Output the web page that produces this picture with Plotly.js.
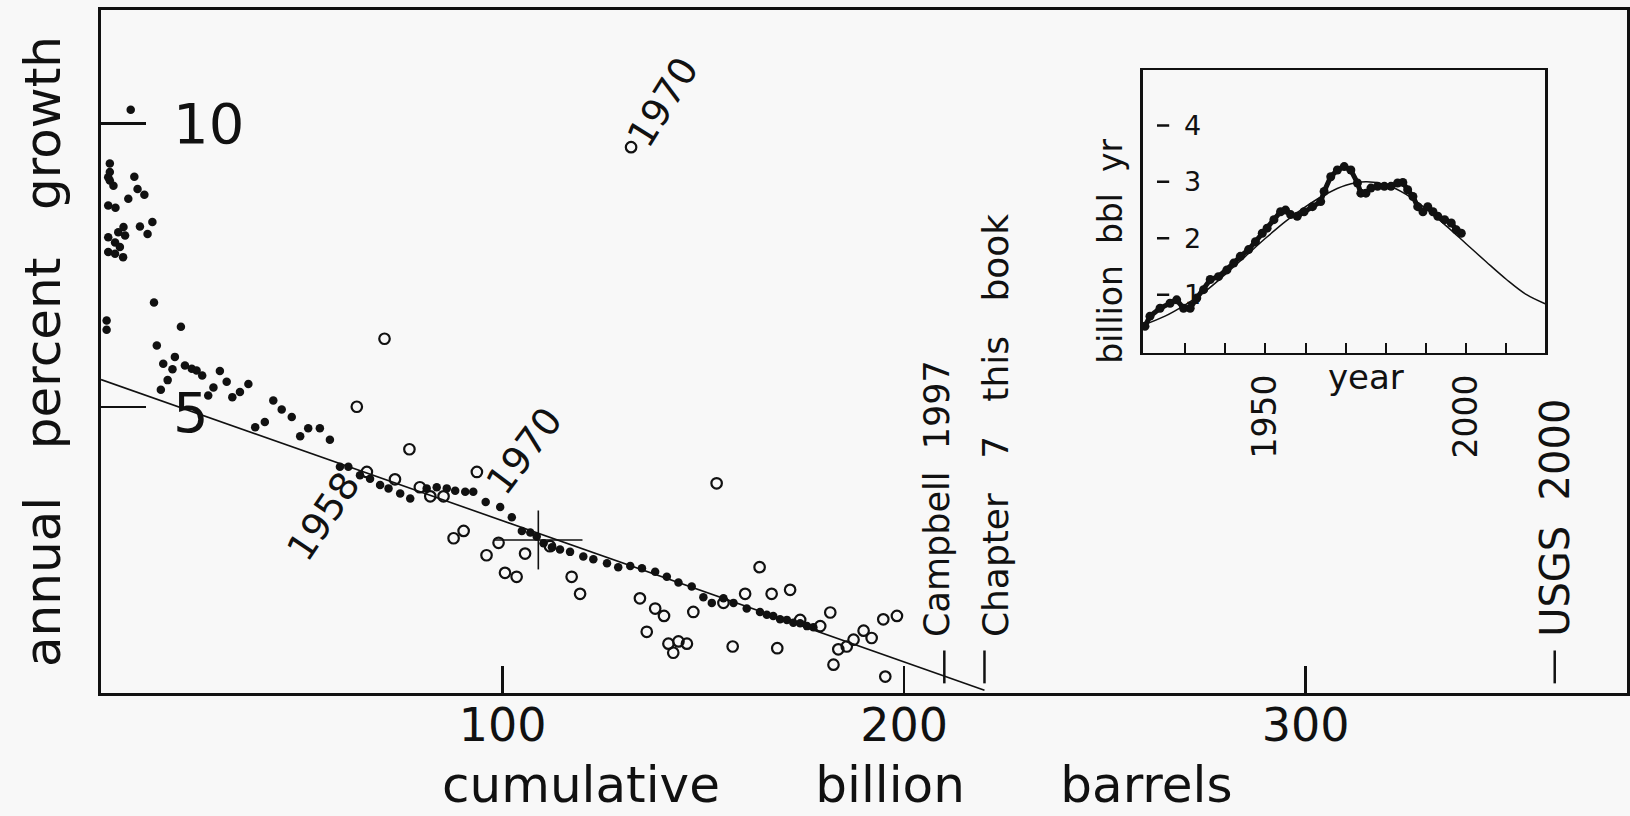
<!DOCTYPE html>
<html>
<head>
<meta charset="utf-8">
<script src="https://cdn.plot.ly/plotly-3.0.1.min.js"></script>
<style>
html,body{margin:0;padding:0;background:#f8f8f8;}
#chart{width:1630px;height:816px;}
</style>
</head>
<body>
<div id="chart"></div>
<script>
// ---- main plot: annual percent growth (P/Q) vs cumulative production Q ----
const growthQ = [1.8,2.2,2.2,2.2,3.1,8.3,9.1,10.8,6.8,1.8,3.6,12.8,9.7,11.6,5.6,4.3,6.0,1.8,3.5,4.7,1.8,5.5,3.5,7.4,
  13.2,1.4,1.4,19.9,13.9,18.4,15.5,17.8,20.9,22.6,23.8,25.2,29.6,16.6,31.3,36.7,28.0,14.9,26.7,34.6,32.7,42.9,45.0,
  47.5,40.8,38.4,51.6,54.5,49.6,57.0,
  59.5,61.6,64.5,67.0,69.5,71.6,74.5,77.0,81.1,83.6,86.1,88.2,90.7,92.7,95.8,99.4,102.3,104.8,106.9,108.5,110.2,
  112.3,114.3,116.8,120.1,122.6,126.0,128.8,131.8,134.7,138.0,140.9,143.8,147.1,150.0,152.1,155.0,157.5,160.8,
  164.1,165.8,167.4,169.1,170.8,172.4,174.1,175.8,177.4];
const growthPct = [9.05,9.29,9.14,8.99,8.9,9.06,8.84,8.74,8.67,8.55,8.51,8.26,8.18,8.05,8.17,8.08,8.02,7.99,7.90,7.82,7.73,7.64,7.70,10.24,
  6.84,6.52,6.36,6.41,6.08,5.88,5.76,5.66,5.73,5.67,5.64,5.55,5.63,5.47,5.44,5.40,5.34,5.30,5.20,5.26,5.17,5.11,4.95,
  4.82,4.73,4.64,4.62,4.62,4.48,4.42,
  3.94,3.94,3.79,3.73,3.62,3.56,3.47,3.38,3.56,3.58,3.56,3.52,3.50,3.50,3.32,3.23,3.05,2.81,2.78,2.71,2.59,
  2.52,2.48,2.44,2.36,2.31,2.24,2.17,2.19,2.15,2.09,2.00,1.90,1.83,1.64,1.54,1.62,1.54,1.44,
  1.38,1.33,1.31,1.25,1.24,1.19,1.18,1.13,1.11];

// open circles (second data set)
const openQ = [70.6,63.7,76.8,93.6,66.2,73.2,79.4,82.0,85.3,87.8,90.3,99.0,96.0,105.6,100.6,103.5,111.8,117.2,119.3,
  132.0,153.3,164.0,160.4,167.0,171.6,134.2,138.0,140.2,147.5,135.9,141.3,143.8,145.9,142.5,157.3,168.4,155.0,174.1,
  181.6,179.1,182.4,183.6,187.4,189.9,191.9,194.8,198.2,195.3,185.7];
const openPct = [6.2,5.0,4.25,3.85,3.85,3.72,3.58,3.42,3.42,2.68,2.81,2.60,2.38,2.41,2.07,2.00,2.54,2.00,1.70,
  9.58,3.65,2.17,1.70,1.70,1.77,1.62,1.44,1.31,1.38,1.03,0.82,0.86,0.82,0.66,0.77,0.74,1.54,1.24,
  1.37,1.13,0.45,0.72,0.89,1.05,0.92,1.25,1.31,0.24,0.77];

// fitted straight line (read at its two ends)
const fitQ = [0, 220];
const fitPct = [5.48, 0];

// cross marker (centre and half-widths)
const crossQ = [108.9];
const crossPct = [2.65];
const crossHalfQ = 11;
const crossHalfPct = 0.52;

// axis ticks
const xTickVals = [100, 200, 300];
const yTickVals = [5, 10];

// estimates of ultimate recovery
const estLabels = ['Campbell\u00a0 1997', 'Chapter\u00a0\u00a0 7\u00a0\u00a0 this\u00a0\u00a0 book', 'USGS\u00a0 2000'];
const estValues = [210, 220, 362];

// year labels on the main plot
const yearLabels = ['1958', '1970', '1970'];
const yearLabelQ = [55.5, 105.4, 140.0];
const yearLabelPct = [3.07, 4.22, 10.37];

// ---- inset: production, billion bbl per yr ----
const prodYear = [1920,1921.25,1923.75,1926.25,1927.9,1929.6,1931.25,1932.9,1934.6,1936.25,1938.3,1940.4,1942.1,1943.75,
  1945.8,1947.5,1949.2,1950.4,1952.1,1953.75,1955,1956.25,1957.9,1959.6,1961.7,1963.75,1964.6,1966.25,1967.9,1969.6,
  1971.25,1972.9,1973.75,1975,1976.25,1977.9,1979.6,1981.25,1982.9,1984.2,1985.4,1986.7,1987.9,1989.2,1990.4,1991.7,
  1992.9,1994.6,1996.25,1997.5,1998.75];
const prodRate = [0.44,0.62,0.76,0.85,0.91,0.76,0.76,0.94,1.09,1.27,1.32,1.44,1.56,1.68,
  1.80,1.94,2.09,2.18,2.33,2.47,2.50,2.42,2.39,2.47,2.56,2.65,2.83,3.09,3.21,3.27,
  3.21,2.98,2.80,2.80,2.89,2.92,2.92,2.92,2.98,2.99,2.86,2.74,2.56,2.47,2.56,2.47,
  2.39,2.33,2.27,2.15,2.09];
const curveYear = [1919.5,1925,1930,1935,1940,1945,1950,1955,1960,1965,1970,1975,1980,1985,1990,1995,2000,2005,2010,2015,2019.6];
const curveRate = [0.46,0.62,0.82,1.06,1.36,1.68,2.0,2.3,2.56,2.78,2.94,3.0,2.95,2.78,2.52,2.22,1.90,1.58,1.27,1.00,0.84];
const insetXTicks = [1930,1940,1950,1960,1970,1980,1990,2000,2010];
const insetXText = ['','','1950','','','','','2000',''];
const insetYTicks = [1,2,3,4];

const INK = '#111';
const FONT = 'DejaVu Sans';
const NB = '\u00a0';
const GAP = NB + NB + NB + NB + NB + ' ';

const traces = [
  {x: growthQ, y: growthPct, type: 'scatter', mode: 'markers',
   marker: {color: INK, size: 8.5}, name: 'growth'},
  {x: openQ, y: openPct, type: 'scatter', mode: 'markers',
   marker: {symbol: 'circle-open', color: INK, size: 10.5, line: {width: 2.2, color: INK}}, name: 'open'},
  {x: fitQ, y: fitPct, type: 'scatter', mode: 'lines', line: {color: INK, width: 1.6}, name: 'fit'},
  {x: crossQ, y: crossPct, type: 'scatter', mode: 'markers', marker: {color: INK, size: 2},
   error_x: {type: 'constant', value: crossHalfQ, width: 0, thickness: 1.6, color: INK},
   error_y: {type: 'constant', value: crossHalfPct, width: 0, thickness: 1.6, color: INK}, name: 'cross'},
  {x: curveYear, y: curveRate, xaxis: 'x2', yaxis: 'y2', type: 'scatter', mode: 'lines',
   line: {color: INK, width: 1.5, shape: 'spline'}, name: 'curve'},
  {x: prodYear, y: prodRate, xaxis: 'x2', yaxis: 'y2', type: 'scatter', mode: 'lines+markers',
   line: {color: INK, width: 5}, marker: {color: INK, size: 9}, name: 'production'}
];

const annotations = [];
yTickVals.forEach(v => annotations.push({
  x: 17.5, y: v, xref: 'x', yref: 'y', xanchor: 'left', yanchor: 'middle', yshift: v === 5 ? -6 : 0,
  text: String(v), showarrow: false, font: {family: FONT, size: 56, color: INK}
}));
const yearAngles = [-56, -53, -58];
yearLabels.forEach((t, i) => annotations.push({
  x: yearLabelQ[i], y: yearLabelPct[i], xref: 'x', yref: 'y', xanchor: 'center', yanchor: 'middle',
  text: t, showarrow: false, textangle: yearAngles[i], font: {family: FONT, size: 38, color: INK}
}));
const estShift = [-8, 11, 0];
const estSize = [35, 36, 40];
estLabels.forEach((t, i) => annotations.push({
  x: estValues[i], y: 0.9, xref: 'x', yref: 'y', xanchor: 'center', yanchor: 'bottom', xshift: estShift[i],
  text: t, showarrow: false, textangle: -90, font: {family: FONT, size: estSize[i], color: INK}
}));
insetYTicks.forEach(v => annotations.push({
  x: 0.715, y: v, xref: 'paper', yref: 'y2', xanchor: 'center', yanchor: 'middle',
  text: String(v), showarrow: false, font: {family: FONT, size: 27, color: INK}
}));
annotations.push({x: 1975, y: 0.4627, xref: 'x2', yref: 'paper', xanchor: 'center', yanchor: 'middle',
  text: 'year', showarrow: false, font: {family: FONT, size: 34, color: INK}});
annotations.push({x: 0.661, y: 0.647, xref: 'paper', yref: 'paper', xanchor: 'center', yanchor: 'middle',
  text: 'billion' + NB + ' bbl' + NB + ' yr', showarrow: false,
  textangle: -90, font: {family: FONT, size: 33, color: INK}});
// x-axis title of the main plot
annotations.push({x: 0.4823, y: -0.1347, xref: 'paper', yref: 'paper', xanchor: 'center', yanchor: 'middle',
  text: 'cumulative' + GAP + 'billion' + GAP + 'barrels', showarrow: false,
  font: {family: FONT, size: 50, color: INK}});

const shapes = [];
estValues.forEach(v => shapes.push({type: 'line', xref: 'x', yref: 'y', x0: v, x1: v, y0: 0.12, y1: 0.7,
  line: {color: INK, width: 2.5}}));
insetYTicks.forEach(v => shapes.push({type: 'line', xref: 'paper', yref: 'y2', x0: 0.692, x1: 0.7, y0: v, y1: v,
  line: {color: INK, width: 2.5}}));

const layout = {
  width: 1630, height: 816,
  margin: {l: 101, r: 3, t: 10, b: 123},
  paper_bgcolor: '#f8f8f8', plot_bgcolor: 'rgba(0,0,0,0)',
  showlegend: false,
  font: {family: FONT, color: INK},
  xaxis: {
    domain: [0, 1], range: [0, 380], tickmode: 'array', tickvals: xTickVals,
    ticks: 'inside', ticklen: 27, tickwidth: 2.5, tickcolor: INK,
    showline: true, mirror: true, linewidth: 3, linecolor: INK,
    showgrid: false, zeroline: false, ticklabelstandoff: -10,
    tickfont: {family: FONT, size: 46, color: INK}
  },
  yaxis: {
    domain: [0, 1], range: [-0.05, 12], tickmode: 'array', tickvals: yTickVals,
    ticks: 'inside', ticklen: 45, tickwidth: 2.5, tickcolor: INK, showticklabels: false,
    showline: true, mirror: true, linewidth: 3, linecolor: INK,
    showgrid: false, zeroline: false,
    title: {text: 'annual' + NB + NB + ' percent' + NB + NB + ' growth', font: {family: FONT, size: 50, color: INK}, standoff: 22}
  },
  xaxis2: {
    domain: [0.6828, 0.9463], anchor: 'y2', range: [1919.5, 2019.6],
    tickmode: 'array', tickvals: insetXTicks, ticktext: insetXText, tickangle: -90,
    ticks: 'inside', ticklen: 10, tickwidth: 2, tickcolor: INK,
    showline: true, mirror: true, linewidth: 2.5, linecolor: INK,
    showgrid: false, zeroline: false, ticklabelstandoff: 6,
    tickfont: {family: FONT, size: 33, color: INK}
  },
  yaxis2: {
    domain: [0.498, 0.912], anchor: 'x2', range: [-0.03, 4.98],
    tickmode: 'array', tickvals: insetYTicks, ticks: '', showticklabels: false,
    showline: true, mirror: true, linewidth: 2.5, linecolor: INK,
    showgrid: false, zeroline: false
  },
  annotations: annotations,
  shapes: shapes
};

Plotly.newPlot('chart', traces, layout, {displayModeBar: false, staticPlot: true});
</script>
</body>
</html>
